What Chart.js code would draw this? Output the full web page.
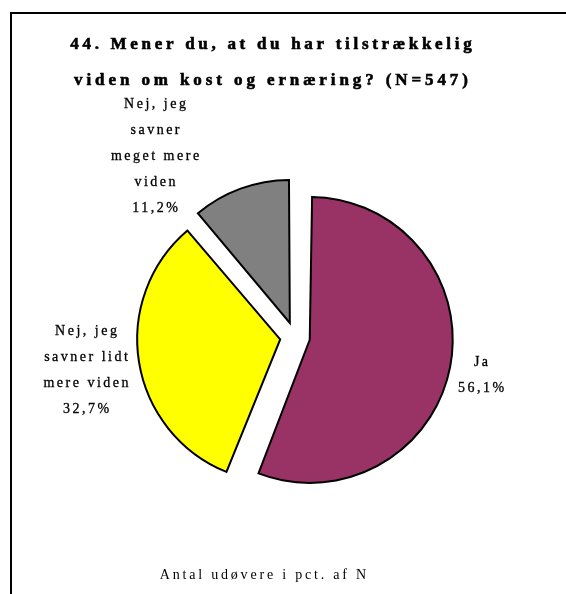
<!DOCTYPE html>
<html>
<head>
<meta charset="utf-8">
<script src="https://cdn.jsdelivr.net/npm/chart.js@4/dist/chart.umd.min.js"></script>
<style>
  html, body { margin: 0; padding: 0; background: #fff; }
  .chart-container { position: relative; width: 566px; height: 594px; }
</style>
</head>
<body>
<div class="chart-container"><canvas id="pieChart"></canvas></div>
<script>
// Data
const titleLines = ['44. Mener du, at du har tilstrækkelig', 'viden om kost og ernæring? (N=547)'];
const categories = ['Ja', 'Nej, jeg savner lidt mere viden', 'Nej, jeg savner meget mere viden'];
const labelLines = [['Ja'], ['Nej, jeg', 'savner lidt', 'mere viden'], ['Nej, jeg', 'savner', 'meget mere', 'viden']];
const shares = [56.1, 32.7, 11.2];
const sliceColors = ['#993366', '#FFFF00', '#808080'];
const footnote = 'Antal udøvere i pct. af N';

const PIE_RADIUS = 143;
const EXPLODE = 15;   // pixels each slice is pulled out

// where each label block sits, relative to the pie centre
const labelOffsets = [[186, 38], [-209, 33], [-140, -181]];

const serif = '"Liberation Serif", "Times New Roman", serif';

function fmtPct(v) {
    return v.toFixed(1).replace('.', ',') + '%';
}

function drawSpaced(ctx, text, x, y, spacing, weight) {
    ctx.letterSpacing = spacing + 'px';
    const w = ctx.measureText(text).width - spacing;
    ctx.textAlign = 'left';
    ctx.fillText(text, x - w / 2, y);
    if (weight) {
        ctx.lineWidth = weight;
        ctx.strokeText(text, x - w / 2, y);
    }
}

// frame, title, footnote and slice labels
const textPlugin = {
    id: 'textPlugin',
    afterDatasetsUpdate(chart) {
        // keep every slice the same size after the offset translation
        const meta = chart.getDatasetMeta(0);
        meta.data.forEach(arc => {
            const circ = arc.endAngle - arc.startAngle;
            const fix = 1 - Math.sin(Math.min(Math.PI, circ));
            arc.outerRadius = PIE_RADIUS - EXPLODE * fix;
        });
    },
    afterDraw(chart) {
        const ctx = chart.ctx;
        ctx.save();
        ctx.fillStyle = '#000';
        ctx.strokeStyle = '#000';
        ctx.fillRect(10, 12, chart.width - 10, 2);
        ctx.fillRect(10, 12, 2, chart.height - 12);

        ctx.textBaseline = 'middle';
        ctx.font = 'bold 17px ' + serif;
        drawSpaced(ctx, titleLines[0], 271, 45, 3.7, 0.6);
        drawSpaced(ctx, titleLines[1], 271, 81, 3.9, 0.6);

        ctx.font = '14px ' + serif;
        drawSpaced(ctx, footnote, 263, 575, 2.8);

        const meta = chart.getDatasetMeta(0);
        const cx = meta.data[0].x;
        const cy = meta.data[0].y;
        const lineH = 26;
        labelLines.forEach((lines, i) => {
            const all = lines.concat([fmtPct(shares[i])]);
            const bx = cx + labelOffsets[i][0];
            const by = cy + labelOffsets[i][1];
            all.forEach((t, j) => {
                drawSpaced(ctx, t, bx, by + (j - (all.length - 1) / 2) * lineH, 2.5, 0.3);
            });
        });
        ctx.restore();
    }
};

new Chart(document.getElementById('pieChart'), {
    type: 'pie',
    data: {
        labels: categories,
        datasets: [{
            data: shares,
            backgroundColor: sliceColors,
            borderColor: '#000',
            borderWidth: 2,
            borderJoinStyle: 'miter',
            offset: EXPLODE * 4
        }]
    },
    options: {
        responsive: true,
        maintainAspectRatio: false,
        animation: false,
        radius: PIE_RADIUS,
        layout: { padding: { left: 24, right: 0, top: 80, bottom: 0 } },
        plugins: {
            legend: { display: false },
            tooltip: { enabled: false },
            title: { display: false }
        }
    },
    plugins: [textPlugin]
});
</script>
</body>
</html>
